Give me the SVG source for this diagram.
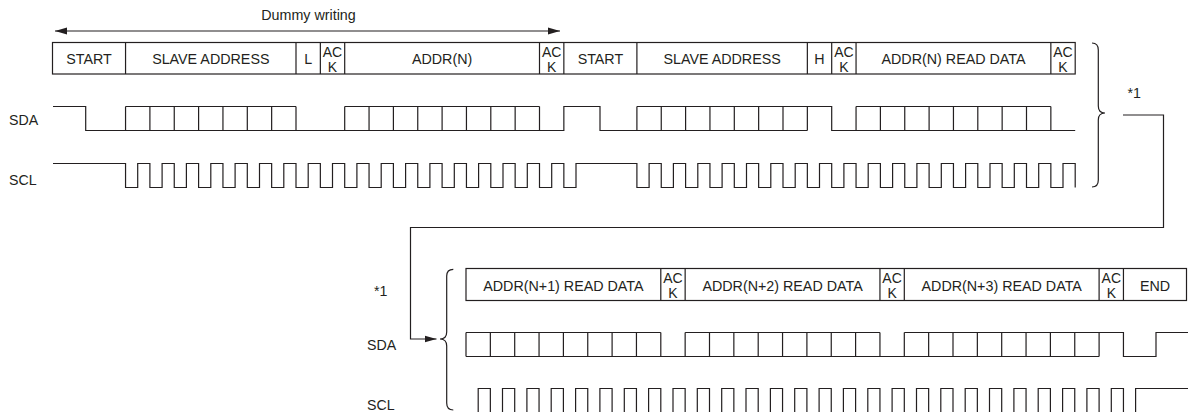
<svg xmlns="http://www.w3.org/2000/svg" width="1188" height="412" viewBox="0 0 1188 412">
<style>
.ln{fill:none;stroke:#231f20;stroke-width:1.2}
.t{font-family:"Liberation Sans",Arial,sans-serif;font-size:14.3px;fill:#231f20;text-anchor:middle}
.s{font-family:"Liberation Sans",Arial,sans-serif;font-size:14.2px;fill:#231f20}
.a{font-family:"Liberation Sans",Arial,sans-serif;font-size:14px;fill:#231f20;text-anchor:middle}
</style>
<defs>
<marker id="ah" markerUnits="userSpaceOnUse" markerWidth="12" markerHeight="8" refX="12" refY="3.5" orient="auto-start-reverse" viewBox="0 0 12 7">
<path d="M0,0 L12,3.5 L0,7 z" fill="#231f20"/>
</marker>
</defs>
<rect width="1188" height="412" fill="#fff"/>

<g id="dummy-writing">
<text class="t" x="308.5" y="20">Dummy writing</text>
<path class="ln" d="M55,31 H560" marker-start="url(#ah)" marker-end="url(#ah)"/>
</g>

<g id="labels-top">
<text class="s" x="9" y="125">SDA</text>
<text class="s" x="9" y="185">SCL</text>
</g>

<g id="frame-top">
<rect class="ln" x="52.5" y="42.5" width="1022.7" height="31.5"/>
<path class="ln" d="M125.55,42.5V74 M296,42.5V74 M320.35,42.5V74 M344.7,42.5V74 M539.5,42.5V74 M563.85,42.5V74 M636.9,42.5V74 M807.35,42.5V74 M831.7,42.5V74 M856.05,42.5V74 M1050.85,42.5V74"/>
<text class="t" x="89" y="64">START</text>
<text class="t" x="210.8" y="64">SLAVE ADDRESS</text>
<text class="t" x="308.2" y="64">L</text>
<text class="a" x="332.5" y="56.5">AC</text><text class="a" x="332.5" y="71.5">K</text>
<text class="t" x="442.1" y="64">ADDR(N)</text>
<text class="a" x="551.7" y="56.5">AC</text><text class="a" x="551.7" y="71.5">K</text>
<text class="t" x="600.4" y="64">START</text>
<text class="t" x="722.1" y="64">SLAVE ADDRESS</text>
<text class="t" x="819.5" y="64">H</text>
<text class="a" x="843.9" y="56.5">AC</text><text class="a" x="843.9" y="71.5">K</text>
<text class="t" x="953.5" y="64">ADDR(N) READ DATA</text>
<text class="a" x="1063" y="56.5">AC</text><text class="a" x="1063" y="71.5">K</text>
</g>

<g id="sda-top">
<path class="ln" d="M53,106.5 H85.7 V130.5 H563.85 V106.5 H600 V130.5 H807.35"/>
<path class="ln" d="M125.55,106.5 H296 M344.7,106.5 H539.5 M636.9,106.5 H831.7 V130.5 H1075.2 M856.05,106.5 H1050.85"/>
<path class="ln" d="M125.55,106.5V130.5 M149.9,106.5V130.5 M174.25,106.5V130.5 M198.6,106.5V130.5 M222.95,106.5V130.5 M247.3,106.5V130.5 M271.65,106.5V130.5 M296,106.5V130.5 M344.7,106.5V130.5 M369.05,106.5V130.5 M393.4,106.5V130.5 M417.75,106.5V130.5 M442.1,106.5V130.5 M466.45,106.5V130.5 M490.8,106.5V130.5 M515.15,106.5V130.5 M539.5,106.5V130.5 M636.9,106.5V130.5 M661.25,106.5V130.5 M685.6,106.5V130.5 M709.95,106.5V130.5 M734.3,106.5V130.5 M758.65,106.5V130.5 M783,106.5V130.5 M807.35,106.5V130.5 M856.05,106.5V130.5 M880.4,106.5V130.5 M904.75,106.5V130.5 M929.1,106.5V130.5 M953.45,106.5V130.5 M977.8,106.5V130.5 M1002.15,106.5V130.5 M1026.5,106.5V130.5 M1050.85,106.5V130.5"/>
</g>

<g id="scl-top">
<path class="ln" d="M53,163.5 H125.55 V187.5 H137.7 V163.5 H149.9 V187.5 H162.1 V163.5 H174.25 V187.5 H186.4 V163.5 H198.6 V187.5 H210.8 V163.5 H222.95 V187.5 H235.1 V163.5 H247.3 V187.5 H259.5 V163.5 H271.65 V187.5 H283.8 V163.5 H296 V187.5 H308.2 V163.5 H320.35 V187.5 H332.5 V163.5 H344.7 V187.5 H356.9 V163.5 H369.05 V187.5 H381.2 V163.5 H393.4 V187.5 H405.6 V163.5 H417.75 V187.5 H429.9 V163.5 H442.1 V187.5 H454.3 V163.5 H466.45 V187.5 H478.6 V163.5 H490.8 V187.5 H503 V163.5 H515.15 V187.5 H527.3 V163.5 H539.5 V187.5 H551.7 V163.5 H563.85 V187.5 H576 V163.5 H636.9 V187.5 H649.1 V163.5 H661.25 V187.5 H673.4 V163.5 H685.6 V187.5 H697.8 V163.5 H709.95 V187.5 H722.1 V163.5 H734.3 V187.5 H746.5 V163.5 H758.65 V187.5 H770.8 V163.5 H783 V187.5 H795.2 V163.5 H807.35 V187.5 H819.5 V163.5 H831.7 V187.5 H843.9 V163.5 H856.05 V187.5 H868.2 V163.5 H880.4 V187.5 H892.6 V163.5 H904.75 V187.5 H916.9 V163.5 H929.1 V187.5 H941.3 V163.5 H953.45 V187.5 H965.6 V163.5 H977.8 V187.5 H990 V163.5 H1002.15 V187.5 H1014.3 V163.5 H1026.5 V187.5 H1038.7 V163.5 H1050.85 V187.5 H1063 V163.5 H1075.2 V187.5"/>
</g>

<g id="labels-bottom">
<text class="s" x="374" y="296">*1</text>
<text class="s" x="367" y="350">SDA</text>
<text class="s" x="367" y="409.5">SCL</text>
<text class="s" x="1127.5" y="98">*1</text>
</g>

<g id="frame-bottom">
<rect class="ln" x="466" y="268.5" width="720.5" height="32"/>
<path class="ln" d="M660.8,268.5V300.5 M685.15,268.5V300.5 M879.95,268.5V300.5 M904.3,268.5V300.5 M1099.1,268.5V300.5 M1123.45,268.5V300.5"/>
<text class="t" x="563.4" y="290.5">ADDR(N+1) READ DATA</text>
<text class="a" x="673" y="282.5">AC</text><text class="a" x="673" y="297.5">K</text>
<text class="t" x="782.55" y="290.5">ADDR(N+2) READ DATA</text>
<text class="a" x="892.1" y="282.5">AC</text><text class="a" x="892.1" y="297.5">K</text>
<text class="t" x="1001.7" y="290.5">ADDR(N+3) READ DATA</text>
<text class="a" x="1111.3" y="282.5">AC</text><text class="a" x="1111.3" y="297.5">K</text>
<text class="t" x="1155" y="290.5">END</text>
</g>

<g id="sda-bottom">
<path class="ln" d="M466,356.5 H1099.1"/>
<path class="ln" d="M466,332.5 H660.8 M685.15,332.5 H879.95 M904.3,332.5 H1123.45 V356.5 H1156 V332.5 H1188"/>
<path class="ln" d="M466,332.5V356.5 M490.35,332.5V356.5 M514.7,332.5V356.5 M539.05,332.5V356.5 M563.4,332.5V356.5 M587.75,332.5V356.5 M612.1,332.5V356.5 M636.45,332.5V356.5 M660.8,332.5V356.5 M685.15,332.5V356.5 M709.5,332.5V356.5 M733.85,332.5V356.5 M758.2,332.5V356.5 M782.55,332.5V356.5 M806.9,332.5V356.5 M831.25,332.5V356.5 M855.6,332.5V356.5 M879.95,332.5V356.5 M904.3,332.5V356.5 M928.65,332.5V356.5 M953,332.5V356.5 M977.35,332.5V356.5 M1001.7,332.5V356.5 M1026.05,332.5V356.5 M1050.4,332.5V356.5 M1074.75,332.5V356.5 M1099.1,332.5V356.5"/>
</g>

<g id="scl-bottom">
<path class="ln" d="M466,420 H478.2 V388.5 H490.35 V420 H502.5 V388.5 H514.7 V420 H526.9 V388.5 H539.05 V420 H551.2 V388.5 H563.4 V420 H575.6 V388.5 H587.75 V420 H599.9 V388.5 H612.1 V420 H624.3 V388.5 H636.45 V420 H648.6 V388.5 H660.8 V420 H673 V388.5 H685.15 V420 H697.3 V388.5 H709.5 V420 H721.7 V388.5 H733.85 V420 H746 V388.5 H758.2 V420 H770.4 V388.5 H782.55 V420 H794.7 V388.5 H806.9 V420 H819.1 V388.5 H831.25 V420 H843.4 V388.5 H855.6 V420 H867.8 V388.5 H879.95 V420 H892.1 V388.5 H904.3 V420 H916.5 V388.5 H928.65 V420 H940.8 V388.5 H953 V420 H965.2 V388.5 H977.35 V420 H989.5 V388.5 H1001.7 V420 H1013.9 V388.5 H1026.05 V420 H1038.2 V388.5 H1050.4 V420 H1062.6 V388.5 H1074.75 V420 H1086.9 V388.5 H1099.1 V420 H1111.3 V388.5 H1123.45 V420 H1135.6 V388.5 H1190"/>
</g>

<g id="connectors">
<path class="ln" d="M1092,43 Q1098.3,43 1098.3,50 V106 Q1098.3,113 1105,113 Q1098.3,113 1098.3,120 V180 Q1098.3,187 1092,187"/>
<path class="ln" d="M453.3,269.3 Q446.7,269.3 446.7,276 V332 Q446.7,339 440,339 Q446.7,339 446.7,346 V403 Q446.7,410 453.3,410"/>
<path class="ln" d="M1123,115 H1163.5 V227.5 H410.5 V339 H436.5" marker-end="url(#ah)"/>
</g>
</svg>
